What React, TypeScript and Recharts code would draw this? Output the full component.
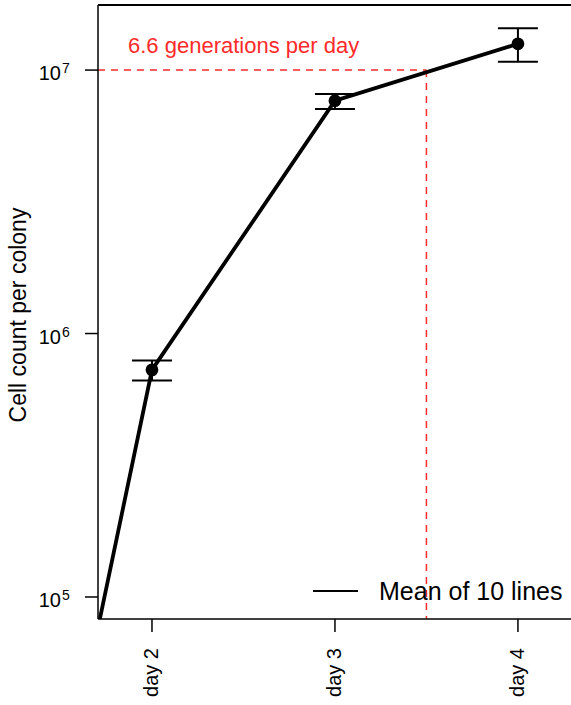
import { LineChart, Line, XAxis, YAxis, ErrorBar, ReferenceLine } from 'recharts';

// mean cell count per colony (10 lines)
const days = [1, 2, 3, 4];
const meanCount = [350, 728000, 7650000, 12580000];
const errLow = [0, 65000, 540000, 1830000];
const errHigh = [0, 62000, 460000, 1820000];
const dayTicks = [2, 3, 4];
const dayLabels = ['day 2', 'day 3', 'day 4'];
const countTicks = [1e5, 1e6, 1e7];
const countExp = ['5', '6', '7'];

const xDomain = [1.705, 4.29];
const yDomain = [82500, 1.766e7];
const markerDay = 3.5;
const markerCount = 1e7;

const data = days.map((d, i) => ({
  day: d,
  mean: meanCount[i],
  err: [errLow[i], errHigh[i]],
}));

const font = '"Liberation Sans", Arial, sans-serif';

// tick label 10^n, placed from the axis line (left edge of the plot = 98)
const YTick = (props: any) => {
  const { y, payload } = props;
  const i = countTicks.indexOf(payload.value);
  return (
    <g>
      <text x={61} y={y + 10} textAnchor="end" fontFamily={font} fontSize={20} fill="#000">
        10
      </text>
      <text x={62} y={y + 3} textAnchor="start" fontFamily={font} fontSize={14} fill="#000">
        {countExp[i]}
      </text>
    </g>
  );
};

const XTick = (props: any) => {
  const { x, y, payload } = props;
  const i = dayTicks.indexOf(payload.value);
  return (
    <text
      x={0}
      y={0}
      transform={`translate(${x + 6},${y + 14}) rotate(-90)`}
      textAnchor="end"
      fontFamily={font}
      fontSize={20}
      fill="#000"
    >
      {dayLabels[i]}
    </text>
  );
};

export default function App() {
  return (
    <div style={{ position: 'absolute', left: 0, top: 0, width: 571, height: 705, background: '#fff' }}>
      <LineChart width={571} height={705} data={data} margin={{ top: 5, right: 0, bottom: 0, left: 0 }}>
        <XAxis
          dataKey="day"
          type="number"
          domain={xDomain}
          allowDataOverflow
          ticks={dayTicks}
          tick={<XTick />}
          tickSize={13}
          height={86}
          stroke="#000"
          strokeWidth={1.5}
          tickLine={{ stroke: '#000', strokeWidth: 1.5 }}
        />
        <YAxis
          type="number"
          scale="log"
          domain={yDomain}
          allowDataOverflow
          ticks={countTicks}
          tick={<YTick />}
          tickSize={13}
          width={98}
          stroke="#000"
          strokeWidth={1.5}
          tickLine={{ stroke: '#000', strokeWidth: 1.5 }}
          label={{
            value: 'Cell count per colony',
            angle: -90,
            position: 'insideLeft',
            offset: 0,
            dx: 18,
            dy: 3,
            style: { fontFamily: font, fontSize: 23, fill: '#000', textAnchor: 'middle' },
          }}
        />
        <ReferenceLine y={yDomain[1]} stroke="#000" strokeWidth={2} />
        <ReferenceLine
          segment={[
            { x: xDomain[0], y: markerCount },
            { x: markerDay, y: markerCount },
          ]}
          stroke="#ff2a2a"
          strokeWidth={1.5}
          strokeDasharray="7 6"
        />
        <ReferenceLine
          segment={[
            { x: markerDay, y: markerCount },
            { x: markerDay, y: yDomain[0] },
          ]}
          stroke="#ff2a2a"
          strokeWidth={1.5}
          strokeDasharray="7 6"
        />
        <ReferenceLine
          y={markerCount}
          stroke="none"
          label={{
            value: '6.6 generations per day',
            position: 'insideTopLeft',
            offset: 0,
            dx: 30,
            dy: -33,
            style: { fontFamily: font, fontSize: 22, fill: '#ff2a2a' },
          }}
        />
        <Line
          dataKey="mean"
          stroke="#000"
          strokeWidth={3.8}
          dot={{ r: 4.5, fill: '#000', stroke: '#000' }}
          isAnimationActive={false}
        >
          <ErrorBar dataKey="err" width={20} stroke="#000" strokeWidth={2} isAnimationActive={false} />
        </Line>
      </LineChart>
      <svg width={260} height={30} style={{ position: 'absolute', left: 310, top: 577 }}>
        <line x1={3} y1={14} x2={48} y2={14} stroke="#000" strokeWidth={2} />
        <text x={69} y={23} fontFamily={font} fontSize={25} fill="#000">
          Mean of 10 lines
        </text>
      </svg>
    </div>
  );
}
